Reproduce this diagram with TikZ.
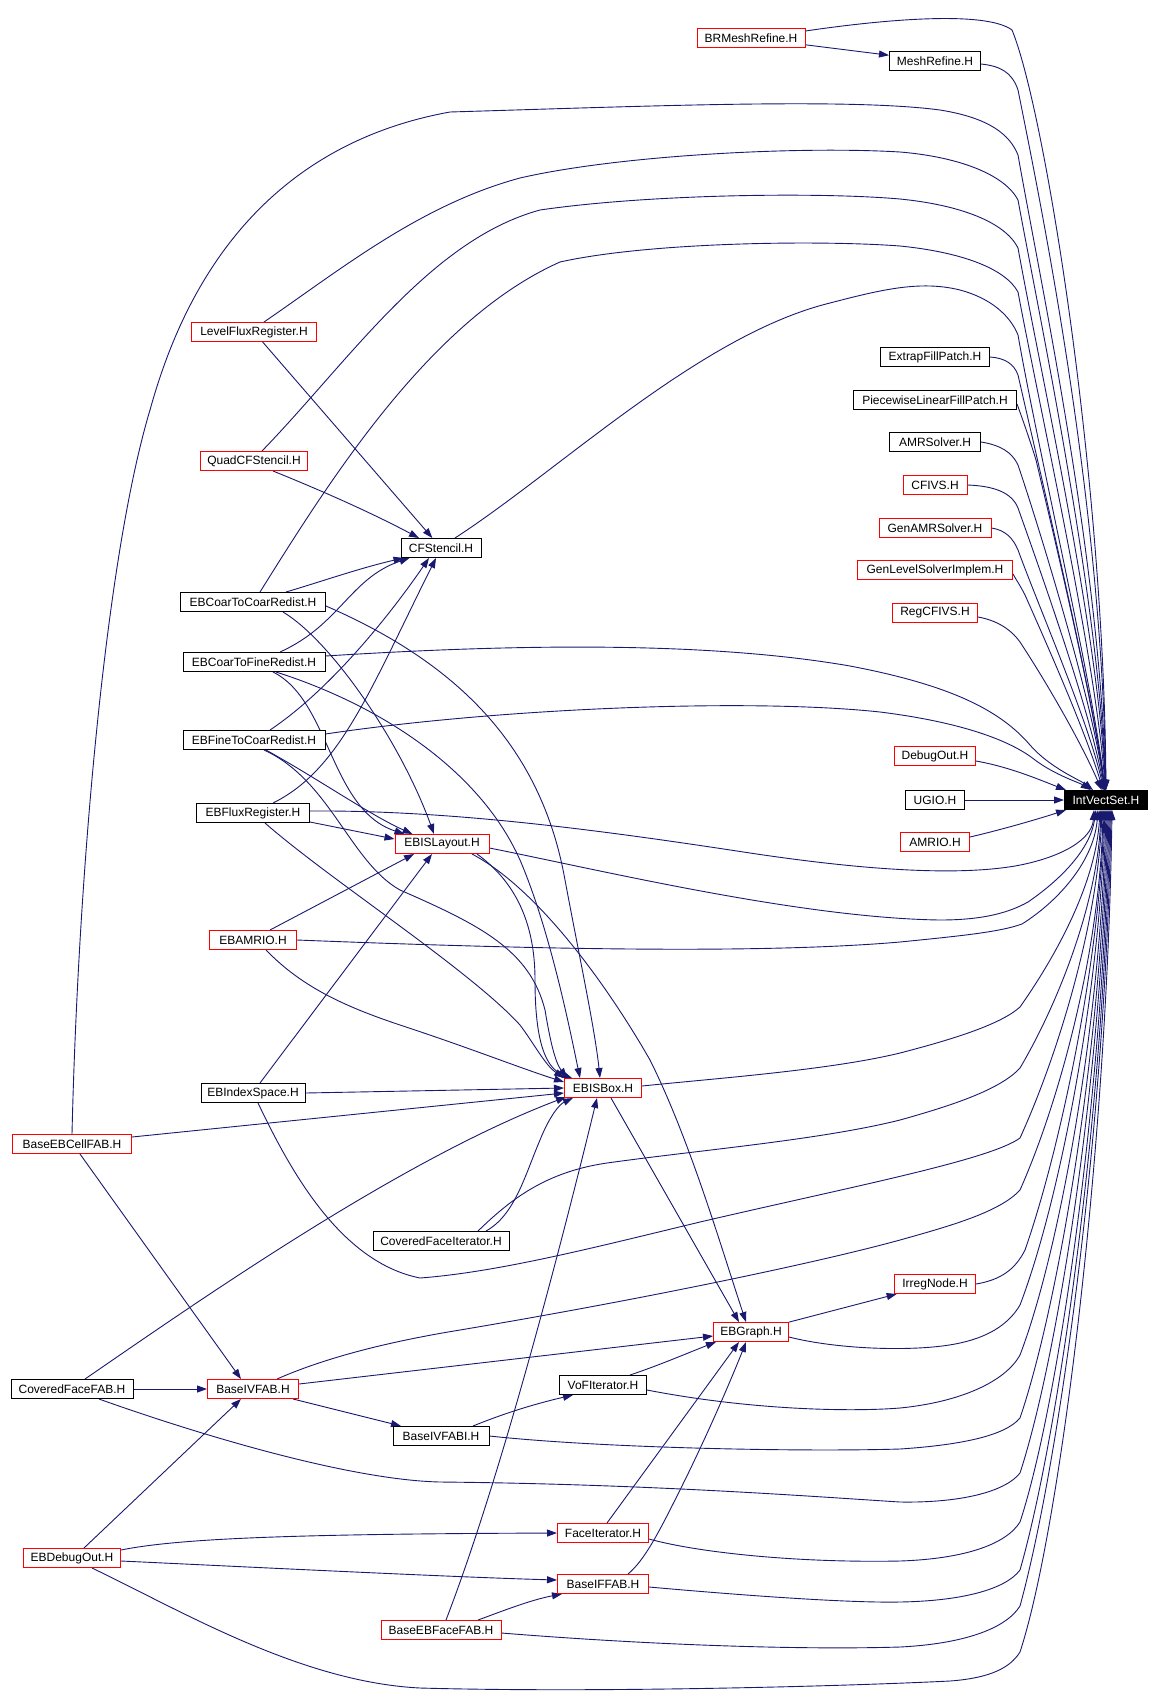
\documentclass[tikz,border=0pt]{standalone}
\usepackage{fontspec}
\setmainfont{Liberation Sans}
\usetikzlibrary{arrows.meta}
\definecolor{edgecol}{HTML}{191970}
\definecolor{boxred}{HTML}{FF0000}
\pgfdeclarelayer{back}
\pgfdeclarelayer{edges}
\pgfsetlayers{back,edges,main}
\tikzset{
  hbox/.style={rectangle, inner sep=0pt, minimum height=19pt, line width=1pt, fill=white, font=\fontsize{12}{14}\selectfont, text=black},
  redbox/.style={hbox, draw=boxred},
  blkbox/.style={hbox, draw=black},
  focusbox/.style={hbox, draw=black, fill=black, text=white},
  edge/.style={draw=edgecol, line width=0.9pt, -{Triangle[length=10pt,width=7pt]}},
}
\begin{document}
\begin{tikzpicture}[x=1pt,y=-1pt]
\begin{pgfonlayer}{back}
\fill[white] (0,0) rectangle (1160,1700);
\end{pgfonlayer}
\useasboundingbox (0,0) rectangle (1160,1700);

% nodes
\node[redbox, minimum width=108pt] (brm) at (751,38) {BRMeshRefine.H};
\node[blkbox, minimum width=91pt] (mesh) at (935,61) {MeshRefine.H};
\node[redbox, minimum width=125pt] (lfr) at (254,332) {LevelFluxRegister.H};
\node[redbox, minimum width=107pt] (quad) at (254,461) {QuadCFStencil.H};
\node[blkbox, minimum width=80pt] (cfs) at (441,548) {CFStencil.H};
\node[blkbox, minimum width=109pt] (extrap) at (935,357) {ExtrapFillPatch.H};
\node[blkbox, minimum width=163pt] (pwl) at (935,400) {PiecewiseLinearFillPatch.H};
\node[blkbox, minimum width=91pt] (amrs) at (935,442) {AMRSolver.H};
\node[redbox, minimum width=64pt] (cfivs) at (935,485) {CFIVS.H};
\node[redbox, minimum width=112pt] (genamr) at (935,528) {GenAMRSolver.H};
\node[redbox, minimum width=155pt] (genlev) at (935,570) {GenLevelSolverImplem.H};
\node[redbox, minimum width=85pt] (regcfivs) at (935,613) {RegCFIVS.H};
\node[redbox, minimum width=81pt] (debugout) at (935,756) {DebugOut.H};
\node[blkbox, minimum width=59pt] (ugio) at (935,800) {UGIO.H};
\node[redbox, minimum width=69pt] (amrio) at (935,842) {AMRIO.H};
\node[focusbox, minimum width=83pt] (ivs) at (1106,800) {IntVectSet.H};
\node[blkbox, minimum width=145pt] (ebc2c) at (253,602) {EBCoarToCoarRedist.H};
\node[blkbox, minimum width=142pt] (ebc2f) at (254,662) {EBCoarToFineRedist.H};
\node[blkbox, minimum width=142pt] (ebf2c) at (254,740) {EBFineToCoarRedist.H};
\node[blkbox, minimum width=113pt] (ebflux) at (253,813) {EBFluxRegister.H};
\node[redbox, minimum width=94pt] (ebisl) at (442,844) {EBISLayout.H};
\node[redbox, minimum width=87pt] (ebamrio) at (253,940) {EBAMRIO.H};
\node[redbox, minimum width=77pt] (ebisbox) at (603,1088) {EBISBox.H};
\node[blkbox, minimum width=104pt] (ebindex) at (253,1093) {EBIndexSpace.H};
\node[redbox, minimum width=119pt] (basecell) at (72,1144) {BaseEBCellFAB.H};
\node[blkbox, minimum width=136pt] (cfi) at (441,1241) {CoveredFaceIterator.H};
\node[blkbox, minimum width=122pt] (cffab) at (72,1389) {CoveredFaceFAB.H};
\node[redbox, minimum width=91pt] (baseivfab) at (253,1389) {BaseIVFAB.H};
\node[blkbox, minimum width=87pt] (vofit) at (603,1385) {VoFIterator.H};
\node[blkbox, minimum width=96pt] (baseivfabi) at (441,1436) {BaseIVFABI.H};
\node[redbox, minimum width=75pt] (ebgraph) at (751,1332) {EBGraph.H};
\node[redbox, minimum width=81pt] (irreg) at (935,1284) {IrregNode.H};
\node[redbox, minimum width=91pt] (faceit) at (603,1533) {FaceIterator.H};
\node[redbox, minimum width=97pt] (ebdebug) at (72,1558) {EBDebugOut.H};
\node[redbox, minimum width=91pt] (baseiffab) at (603,1584) {BaseIFFAB.H};
\node[redbox, minimum width=120pt] (baseebface) at (441,1630) {BaseEBFaceFAB.H};

\begin{pgfonlayer}{edges}
% ---- edges into IntVectSet from above
\draw[edge] ([yshift=7pt]brm.east) .. controls (880,20) and (985,10) .. (1012,30) .. controls (1045,110) and (1104,480) .. (ivs);
\draw[edge] ([yshift=-3pt]mesh.east) .. controls (1000,66) and (1012,72) .. (1018,90) .. controls (1040,200) and (1102,500) .. (ivs);
\draw[edge] (basecell.north) .. controls (78,880) and (105,560) .. (150,410) .. controls (175,320) and (240,150) .. (450,112) .. controls (650,106) and (850,98) .. (940,110) .. controls (990,118) and (1010,135) .. (1018,155) .. controls (1040,280) and (1100,560) .. (ivs);
\draw[edge] ([xshift=10pt]lfr.north) .. controls (340,270) and (420,205) .. (520,178) .. controls (620,155) and (800,146) .. (900,152) .. controls (960,157) and (1005,175) .. (1018,200) .. controls (1040,320) and (1099,600) .. (ivs);
\draw[edge] ([xshift=8pt]quad.north) .. controls (350,360) and (430,240) .. (540,210) .. controls (650,194) and (820,192) .. (900,199) .. controls (960,205) and (1005,222) .. (1018,248) .. controls (1040,370) and (1098,630) .. (ivs);
\draw[edge] ([xshift=7pt]ebc2c.north) .. controls (330,480) and (430,320) .. (560,262) .. controls (650,242) and (820,240) .. (900,246) .. controls (960,252) and (1005,268) .. (1018,292) .. controls (1040,410) and (1096,660) .. (ivs);
\draw[edge] ([xshift=14pt]cfs.north) .. controls (560,470) and (700,335) .. (830,303) .. controls (880,290) and (920,280) .. (960,290) .. controls (990,298) and (1010,315) .. (1018,335) .. controls (1038,450) and (1094,690) .. (ivs);
\draw[edge] (extrap.east) .. controls (1005,358) and (1014,364) .. (1018,375) .. controls (1035,450) and (1094,700) .. (ivs);
\draw[edge] ([yshift=-4pt]pwl.east) .. controls (1020,412) and (1030,440) .. (1036,460) .. controls (1055,540) and (1093,700) .. (ivs);
\draw[edge] (amrs.east) .. controls (1000,445) and (1012,452) .. (1018,465) .. controls (1040,530) and (1092,700) .. (ivs);
\draw[edge] (cfivs.east) .. controls (995,486) and (1012,493) .. (1018,508) .. controls (1040,570) and (1090,710) .. (ivs);
\draw[edge] (genamr.east) .. controls (1005,530) and (1013,538) .. (1018,550) .. controls (1040,610) and (1088,720) .. (ivs);
\draw[edge] ([yshift=-4pt]genlev.east) .. controls (1015,578) and (1020,585) .. (1025,595) .. controls (1045,640) and (1085,730) .. (ivs);
\draw[edge] ([yshift=-4pt]regcfivs.east) .. controls (995,620) and (1010,628) .. (1020,642) .. controls (1045,680) and (1080,740) .. (ivs);
\draw[edge] ([yshift=6pt]ebc2f.east) .. controls (500,645) and (700,640) .. (850,666) .. controls (950,685) and (1000,710) .. (1030,745) .. controls (1050,768) and (1080,780) .. (ivs);
\draw[edge] ([yshift=6pt]ebf2c.east) .. controls (500,708) and (750,698) .. (880,712) .. controls (960,722) and (1010,740) .. (1035,760) .. controls (1055,775) and (1080,783) .. (ivs);
\draw[edge] ([yshift=-5pt]debugout.east) .. controls (1010,767) and (1040,780) .. ([xshift=2pt]ivs.north west);
\draw[edge] (ugio) -- (ivs);
\draw[edge] ([yshift=5pt]amrio.east) .. controls (1000,830) and (1035,820) .. ([xshift=2pt]ivs.south west);
% ---- edges into IntVectSet from below
\draw[edge] ([yshift=2pt]ebflux.east) .. controls (450,810) and (600,830) .. (750,853) .. controls (850,868) and (950,877) .. (1015,866) .. controls (1060,858) and (1092,840) .. ([xshift=-12pt]ivs.south);
\draw[edge] ([yshift=-4pt]ebisl.east) .. controls (600,870) and (800,918) .. (940,920) .. controls (985,920) and (1010,912) .. (1028,902) .. controls (1060,880) and (1090,850) .. ([xshift=-10pt]ivs.south);
\draw[edge] (ebamrio.east) .. controls (500,948) and (750,955) .. (900,942) .. controls (960,936) and (1000,932) .. (1022,924) .. controls (1060,900) and (1094,860) .. ([xshift=-8pt]ivs.south);
\draw[edge] ([yshift=2pt]ebisbox.east) .. controls (720,1078) and (830,1070) .. (900,1053) .. controls (950,1040) and (1000,1025) .. (1020,1007) .. controls (1060,950) and (1096,880) .. ([xshift=-6pt]ivs.south);
\draw[edge] ([xshift=37pt]cfi.north) .. controls (510,1200) and (545,1172) .. (607,1163) .. controls (700,1150) and (820,1140) .. (900,1120) .. controls (950,1106) and (1000,1090) .. (1020,1068) .. controls (1060,1000) and (1098,900) .. ([xshift=-5pt]ivs.south);
\draw[edge] ([xshift=5pt]ebindex.south) .. controls (290,1170) and (340,1262) .. (420,1278) .. controls (500,1272) and (600,1246) .. (700,1222) .. controls (850,1187) and (990,1160) .. (1020,1138) .. controls (1060,1050) and (1098,920) .. ([xshift=-4pt]ivs.south);
\draw[edge] ([xshift=24pt]baseivfab.north) .. controls (320,1360) and (380,1343) .. (460,1330) .. controls (650,1298) and (820,1262) .. (900,1240) .. controls (950,1226) and (1000,1212) .. (1020,1190) .. controls (1060,1100) and (1100,950) .. ([xshift=-3pt]ivs.south);
\draw[edge] (irreg.east) .. controls (1000,1280) and (1015,1270) .. (1025,1250) .. controls (1060,1150) and (1100,960) .. ([xshift=-2pt]ivs.south);
\draw[edge] ([yshift=-5pt]ebgraph.east) .. controls (840,1350) and (920,1352) .. (960,1343) .. controls (992,1336) and (1010,1322) .. (1020,1305) .. controls (1060,1200) and (1100,990) .. ([xshift=-1pt]ivs.south);
\draw[edge] ([yshift=-5pt]vofit.east) .. controls (750,1410) and (850,1412) .. (900,1408) .. controls (960,1402) and (1005,1382) .. (1020,1355) .. controls (1060,1250) and (1101,1020) .. (ivs.south);
\draw[edge] (baseivfabi.east) .. controls (600,1448) and (800,1452) .. (900,1449) .. controls (960,1445) and (1005,1436) .. (1020,1418) .. controls (1060,1300) and (1102,1040) .. ([xshift=1pt]ivs.south);
\draw[edge] ([xshift=27pt]cffab.south) .. controls (200,1435) and (350,1480) .. (440,1482) .. controls (650,1484) and (820,1497) .. (900,1502) .. controls (960,1503) and (1005,1492) .. (1020,1473) .. controls (1060,1350) and (1103,1060) .. ([xshift=2pt]ivs.south);
\draw[edge] ([yshift=-6pt]faceit.east) .. controls (700,1553) and (800,1563) .. (900,1561) .. controls (960,1559) and (1005,1546) .. (1020,1522) .. controls (1060,1400) and (1104,1080) .. ([xshift=3pt]ivs.south);
\draw[edge] ([yshift=-3pt]baseiffab.east) .. controls (750,1596) and (850,1603) .. (900,1602) .. controls (960,1601) and (1005,1590) .. (1020,1570) .. controls (1060,1430) and (1105,1100) .. ([xshift=4pt]ivs.south);
\draw[edge] ([yshift=-3pt]baseebface.east) .. controls (650,1645) and (800,1650) .. (900,1647) .. controls (960,1644) and (1005,1630) .. (1020,1606) .. controls (1060,1460) and (1106,1120) .. ([xshift=5pt]ivs.south);
\draw[edge] ([xshift=20pt]ebdebug.south) .. controls (180,1610) and (300,1682) .. (420,1688) .. controls (600,1693) and (850,1686) .. (950,1681) .. controls (990,1678) and (1010,1668) .. (1020,1652) .. controls (1060,1530) and (1107,1150) .. ([xshift=6pt]ivs.south);

% ---- other edges
\draw[edge] (brm) -- (mesh);
\draw[edge] (lfr) -- (cfs);
\draw[edge] ([xshift=19pt]quad.south) .. controls (320,490) and (370,512) .. ([xshift=-22pt]cfs.north);
\draw[edge] ([xshift=33pt]ebc2c.north) .. controls (320,582) and (360,568) .. ([xshift=3pt]cfs.south west);
\draw[edge] ([xshift=26pt]ebc2f.north) .. controls (340,625) and (350,578) .. ([xshift=9pt]cfs.south west);
\draw[edge] ([xshift=16pt]ebf2c.north) .. controls (330,690) and (390,615) .. ([xshift=-12pt]cfs.south);
\draw[edge] ([xshift=20pt]ebflux.north) .. controls (340,770) and (370,690) .. ([xshift=-5pt]cfs.south);

\draw[edge] ([xshift=30pt]ebc2c.south) .. controls (330,640) and (400,740) .. ([xshift=-8pt]ebisl.north);
\draw[edge] ([xshift=19pt]ebc2f.south) .. controls (330,700) and (330,810) .. ([xshift=10pt]ebisl.north west);
\draw[edge] ([xshift=12pt]ebf2c.south) .. controls (320,780) and (370,815) .. ([xshift=18pt]ebisl.north west);
\draw[edge] ([yshift=1pt]ebflux.south east) -- ([yshift=5pt]ebisl.west);
\draw[edge] ([xshift=17pt]ebamrio.north) -- ([xshift=-28pt]ebisl.south);
\draw[edge] ([xshift=7pt]ebindex.north) -- ([xshift=-10pt]ebisl.south);

\draw[edge] ([xshift=35pt]ebisl.south) .. controls (520,885) and (535,930) .. (535,980) .. controls (535,1040) and (545,1068) .. ([xshift=8pt]ebisbox.north west);
\draw[edge] ([yshift=-4pt]ebc2c.east) .. controls (450,660) and (540,740) .. (565,880) .. controls (580,960) and (595,1030) .. ([xshift=-3pt]ebisbox.north);
\draw[edge] ([xshift=22pt]ebc2f.south) .. controls (380,705) and (480,770) .. (520,860) .. controls (550,930) and (570,1030) .. ([xshift=16pt]ebisbox.north west);
\draw[edge] ([xshift=10pt]ebf2c.south) .. controls (330,780) and (350,862) .. (400,890) .. controls (480,925) and (530,950) .. (545,1010) .. controls (550,1040) and (555,1062) .. ([xshift=3pt]ebisbox.north west);
\draw[edge] ([xshift=12pt]ebflux.south) .. controls (330,880) and (470,970) .. (520,1025) .. controls (535,1045) and (545,1065) .. (ebisbox.north west);
\draw[edge] ([xshift=13pt]ebamrio.south) .. controls (300,985) and (340,1005) .. (400,1025) .. controls (470,1048) and (520,1068) .. ([yshift=-4pt]ebisbox.north west);
\draw[edge] (ebindex.east) -- (ebisbox.west);
\draw[edge] ([yshift=7pt]basecell.east) -- ([yshift=-5pt]ebisbox.west);
\draw[edge] ([xshift=13pt]cffab.north) .. controls (200,1300) and (400,1160) .. ([xshift=2pt,yshift=1pt]ebisbox.south west);
\draw[edge] ([xshift=45pt]cfi.north) .. controls (515,1215) and (525,1175) .. (540,1140) .. controls (550,1115) and (560,1104) .. ([xshift=9pt]ebisbox.south west);
\draw[edge] ([xshift=5pt]baseebface.north) .. controls (500,1480) and (560,1250) .. ([xshift=-6pt]ebisbox.south);

\draw[edge] ([xshift=8pt]ebisbox.south) -- ([xshift=-12pt]ebgraph.north);
\draw[edge] ([xshift=30pt]ebisl.south) .. controls (540,890) and (610,990) .. (650,1060) .. controls (690,1140) and (722,1250) .. ([xshift=-5pt]ebgraph.north);
\draw[edge] ([yshift=5pt]baseivfab.east) -- ([yshift=-4pt]ebgraph.west);
\draw[edge] ([xshift=27pt]vofit.north) .. controls (660,1365) and (690,1352) .. ([xshift=3pt]ebgraph.south west);
\draw[edge] ([xshift=4pt]faceit.north) -- ([xshift=-12pt]ebgraph.south);
\draw[edge] ([xshift=25pt]baseiffab.north) .. controls (645,1560) and (660,1530) .. (680,1490) .. controls (710,1430) and (735,1370) .. ([xshift=-5pt]ebgraph.south);
\draw[edge] (ebgraph) -- (irreg);

\draw[edge] ([xshift=8pt]basecell.south) -- ([xshift=-12pt]baseivfab.north);
\draw[edge] (cffab) -- (baseivfab);
\draw[edge] ([xshift=12pt]ebdebug.north) -- ([xshift=-12pt]baseivfab.south);
\draw[edge] (baseivfab) -- (baseivfabi);
\draw[edge] ([xshift=32pt]baseivfabi.north) .. controls (500,1415) and (530,1405) .. ([xshift=-30pt]vofit.south);
\draw[edge] ([yshift=8pt]ebdebug.east) .. controls (180,1538) and (300,1534) .. (faceit.west);
\draw[edge] ([yshift=-3pt]ebdebug.east) .. controls (250,1567) and (450,1577) .. ([yshift=4pt]baseiffab.west);
\draw[edge] ([xshift=37pt]baseebface.north) .. controls (500,1612) and (530,1600) .. ([xshift=5pt]baseiffab.south west);
\end{pgfonlayer}
\end{tikzpicture}
\end{document}
